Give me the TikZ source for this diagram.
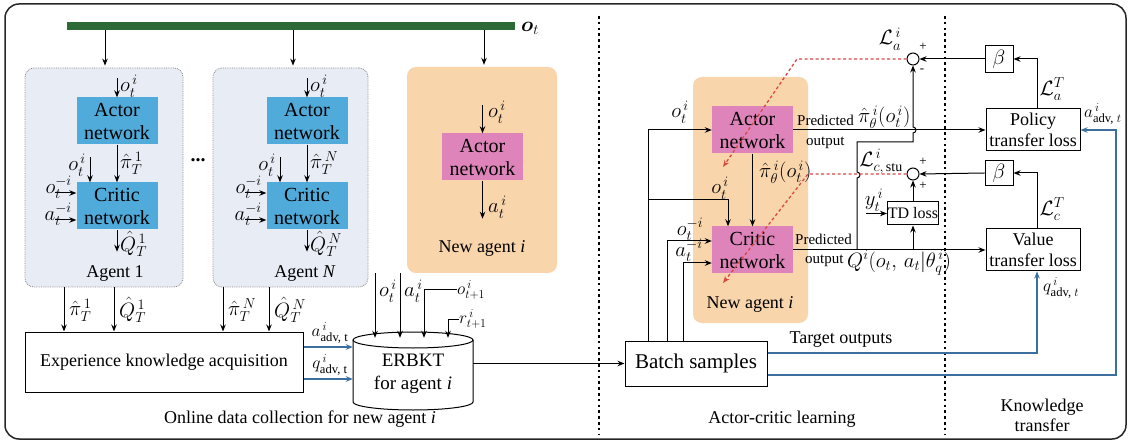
\documentclass[tikz,border=0pt]{standalone}
\usepackage{amsmath}
\usepackage{fontspec}
\setmainfont{Liberation Serif}
\newfontfamily\tms{Liberation Serif}
\usetikzlibrary{arrows.meta,calc}
\definecolor{agbg}{HTML}{E8ECF5}
\definecolor{agbd}{HTML}{8A8A8A}
\definecolor{netblue}{HTML}{50AADA}
\definecolor{netpink}{HTML}{DF84BA}
\definecolor{orng}{HTML}{F9D5AC}
\definecolor{barg}{HTML}{2E6A36}
\definecolor{lblue}{HTML}{3C6E9E}
\definecolor{dred}{HTML}{D84848}
\begin{document}
\begin{tikzpicture}[x=1pt,y=-1pt,
  >={Stealth[length=7pt,width=5.5pt]},
  lbl/.style={font=\tms\fontsize{18}{21}\selectfont, inner sep=0pt},
  mlbl/.style={font=\tms\fontsize{20}{23}\selectfont, inner sep=0pt},
  slbl/.style={font=\tms\fontsize{15}{17}\selectfont, inner sep=0pt},
  agentbox/.style={draw=agbd, densely dotted, line width=0.8pt, fill=agbg, rounded corners=9pt},
  orbox/.style={fill=orng, rounded corners=9pt},
  net/.style={align=center, minimum width=81, minimum height=47, inner sep=0pt, font=\tms\fontsize{20}{23}\selectfont},
  bnet/.style={net, fill=netblue},
  pnet/.style={net, fill=netpink},
  wbox/.style={draw, line width=1pt, fill=white, align=center, inner sep=0pt, font=\tms\fontsize{18}{21}\selectfont},
  arr/.style={->, line width=1pt},
  thk/.style={->, line width=1.8pt},
  blu/.style={->, draw=lblue, color=lblue, line width=1.2pt},
  rdash/.style={->, draw=dred, color=dred, line width=1.3pt, dash pattern=on 3pt off 2.5pt},
  sep/.style={line width=2.6pt, dash pattern=on 2.6pt off 3.2pt},
  sumc/.style={circle, draw, line width=1pt, minimum size=12, inner sep=0pt, fill=white},
  sgn/.style={font=\tms\fontsize{13}{13}\selectfont, inner sep=0pt}
]
\useasboundingbox (0,0) rectangle (1131,443);
% frame and separators
\draw[line width=1.5pt, rounded corners=14pt, draw=black!85, fill=white] (5,4) rectangle (1126,439);
\draw[sep] (599,16) -- (599,434);
\draw[sep] (945,16) -- (945,434);

% agent boxes
\node[agentbox, minimum width=158, minimum height=219] (ag1) at (104,177.5) {};
\node[agentbox, minimum width=155, minimum height=219] (agN) at (290.5,177.5) {};
\node[orbox, minimum width=150, minimum height=206] (nag) at (482,170) {};
\node[orbox, minimum width=115, minimum height=246] (nag2) at (750.5,200) {};

% observation bar
\node[fill=barg, minimum width=448, minimum height=8, inner sep=0pt] (bar) at (291,26) {};
\node[mlbl, anchor=west] (ot) at (521,28) {$\boldsymbol{o}_t$};
\foreach \x/\b in {105/ag1, 293/agN, 484/nag}
  \draw[arr, shorten >=2pt] (bar.south -| \x,0) -- (\b.north -| \x,0);

% expert agents
\foreach \dx/\sx/\n/\agt in {0/a/1/1, 190/b/N/{\textit{N}}} {
  \node[bnet] (act\sx) at ({117+\dx},121) {Actor\\network};
  \node[bnet] (cri\sx) at ({117+\dx},206) {Critic\\network};
  \draw[arr] ($(act\sx.north)+(0,-19)$) -- (act\sx.north);
  \node[mlbl, anchor=west] at ({120+\dx},86) {$o_t^{\,i}$};
  \draw[arr] (act\sx.south) -- (cri\sx.north);
  \node[mlbl, anchor=west] at ({120+\dx},163) {$\hat{\pi}_T^{\,\n}$};
  \draw[arr] ($(cri\sx.north)+(-27,-25)$) -- ($(cri\sx.north)+(-27,0)$);
  \node[mlbl, anchor=east] at ({86+\dx},165) {$o_t^{\,i}$};
  \draw[arr] ($(cri\sx.west)+(-21,-13)$) -- ($(cri\sx.west)+(0,-13)$);
  \node[mlbl, anchor=east] at ({72+\dx},187) {$o_t^{-i}$};
  \draw[arr] ($(cri\sx.west)+(-21,14)$) -- ($(cri\sx.west)+(0,14)$);
  \node[mlbl, anchor=east] at ({72+\dx},214) {$a_t^{-i}$};
  \draw[arr] (cri\sx.south) -- ($(cri\sx.south)+(0,22)$);
  \node[mlbl, anchor=west] at ({120+\dx},244) {$\hat{Q}_T^{\,\n}$};
  \node[lbl] at ({115+\dx},274) {Agent \agt};
}
\node[font=\tms\bfseries\fontsize{20}{20}\selectfont, inner sep=0pt] at (198,160) {...};

% new agent (online)
\node[pnet] (act3) at (482.5,157) {Actor\\network};
\draw[arr] ($(act3.north)+(0,-28)$) -- (act3.north);
\node[mlbl, anchor=west] at (488,112) {$o_t^{\,i}$};
\draw[arr] (act3.south) -- ($(act3.south)+(0,38)$);
\node[mlbl, anchor=west] at (488,207) {$a_t^{\,i}$};
\node[lbl] at (482,248) {New agent \textit{i}};

% experience knowledge acquisition
\node[wbox, minimum width=278, minimum height=60] (eka) at (164,362) {Experience knowledge acquisition};
\draw[arr] (ag1.south -| 64,0) -- (eka.north -| 64,0);
\node[mlbl, anchor=west] at (69,310) {$\hat{\pi}_T^{\,1}$};
\draw[arr] (ag1.south -| 114,0) -- (eka.north -| 114,0);
\node[mlbl, anchor=west] at (119,310) {$\hat{Q}_T^{\,1}$};
\draw[arr] (agN.south -| 223,0) -- (eka.north -| 223,0);
\node[mlbl, anchor=west] at (228,310) {$\hat{\pi}_T^{\,N}$};
\draw[arr] (agN.south -| 269,0) -- (eka.north -| 269,0);
\node[mlbl, anchor=west] at (274,310) {$\hat{Q}_T^{\,N}$};

% ERBKT cylinder
\draw[line width=1pt, fill=white] (353,340) -- (353,402) arc[start angle=180,end angle=360,x radius=60pt,y radius=8pt] -- (473,340);
\draw[line width=1pt, fill=white] (413,340) ellipse[x radius=60pt, y radius=8pt];
\node[inner sep=0pt, minimum width=120, minimum height=72, align=center, font=\tms\fontsize{19}{23}\selectfont] (erb) at (413,374) {ERBKT\\for agent \textit{i}};
\draw[arr] (nag.south -| 375,0) -- (erb.north -| 375,0);
\node[mlbl, anchor=west] at (379,291) {$o_t^{\,i}$};
\draw[arr] (nag.south -| 400,0) -- (erb.north -| 400,0);
\node[mlbl, anchor=west] at (404,291) {$a_t^{\,i}$};
\node[lbl, anchor=west] (lo1) at (457,290) {$o_{t+1}^{\,i}$};
\draw[line width=1pt, ->] (lo1.west) -| (erb.north -| 424,0);
\node[lbl, anchor=west] (lr1) at (459,319) {$r_{t+1}^{\,i}$};
\draw[line width=1pt, ->] (lr1.west) -| (erb.north -| 448,0);

\draw[blu] (eka.east |- 0,347) -- (erb.west |- 0,347);
\node[lbl, anchor=south] at (330,344) {$a^{\,i}_{\text{adv, t}}$};
\draw[blu] (eka.east |- 0,379) -- (erb.west |- 0,379);
\node[lbl, anchor=south] at (330,376) {$q^{\,i}_{\text{adv, t}}$};
\node[lbl] at (300,419) {Online data collection for new agent \textit{i}};

% actor-critic learning
\node[pnet] (act2) at (752.5,130) {Actor\\network};
\node[pnet] (cri2) at (752.5,250) {Critic\\network};
\node[lbl] at (750,304) {New agent \textit{i}};
\node[wbox, minimum width=142, minimum height=45, font=\tms\fontsize{21}{24}\selectfont] (batch) at (696,363.5) {Batch samples};
\draw[thk] (erb.east |- batch.west) -- (batch.west);

\draw[arr] (batch.north -| 648,0) |- (act2.west);
\coordinate (br) at (648,200);
\draw[arr] (br) -| ($(cri2.north)+(-24.5,0)$);
\draw[arr] (batch.north -| 667,0) |- ($(cri2.west)+(0,-9)$);
\draw[arr] (batch.north -| 683,0) |- ($(cri2.west)+(0,13)$);
\draw[arr] (act2.south) -- (cri2.north);
\node[mlbl] at (680,112) {$o_t^{\,i}$};
\node[mlbl] at (720,188) {$o_t^{\,i}$};
\node[mlbl] at (690,229) {$o_t^{-i}$};
\node[mlbl] at (689,250) {$a_t^{-i}$};
\node[mlbl, anchor=west] at (759,172) {$\hat{\pi}_\theta^{\,i}(o_t^{\,i})$};

\node[slbl, anchor=west] at (797,120) {Predicted};
\node[slbl, anchor=west] at (806,143) {output};
\node[mlbl, anchor=west] at (858,117) {$\hat{\pi}_\theta^{\,i}(o_t^{\,i})$};
\node[slbl, anchor=west] at (795,239) {Predicted};
\node[slbl, anchor=west] at (805,261) {output};
\node[mlbl, anchor=west] at (847,263) {$Q^i(o_t,\, a_t|\theta_q^{\,i})$};
\node[lbl] at (841,340) {Target outputs};
\node[lbl] at (782,419) {Actor-critic learning};

% knowledge transfer side
\node[sumc] (la) at (913,59) {};
\node[sumc] (lc) at (913,174) {};
\node[wbox, minimum width=28, minimum height=27, font=\fontsize{20}{22}\selectfont] (b1) at (999,59) {$\beta$};
\node[wbox, minimum width=28, minimum height=25, font=\fontsize{20}{22}\selectfont] (b2) at (999,173) {$\beta$};
\node[wbox, minimum width=94, minimum height=42] (pol) at (1033,130) {Policy\\transfer loss};
\node[wbox, minimum width=94, minimum height=42] (val) at (1033,250) {Value\\transfer loss};
\node[wbox, minimum width=51, minimum height=23, font=\tms\fontsize{16}{18}\selectfont] (td) at (913,213.5) {TD loss};

\draw[arr] (act2.east) -- (pol.west);
\draw[arr] (cri2.east) -- (val.west);
\draw[arr] (pol.north -| 1037,0) |- (b1.east);
\draw[arr] (val.north -| 1037,0) |- (b2.east);
\draw[arr] (b1.west) -- (la.east);
\draw[arr] (b2.west) -- (lc.east);
\node[mlbl] at (1052,89) {$\mathcal{L}_a^{T}$};
\node[mlbl] at (1052,209) {$\mathcal{L}_c^{T}$};

\draw[arr] (cri2.east -| 857,0) -- (857,178) arc[start angle=-90,end angle=90,radius=3pt] -- (857,142) -| (913,133) arc[start angle=-90,end angle=90,radius=3pt] -- (la.south);
\draw[arr] (cri2.east -| td.south) -- (td.south);
\draw[arr] (td.north) -- (lc.south);
\coordinate (yt) at (866,213.5);
\draw[arr] (yt) -- (td.west);
\node[mlbl] at (874,200) {$y_t^{\,i}$};

\node[mlbl] at (890,39) {$\mathcal{L}_a^{\,i}$};
\node[mlbl] at (881,162) {$\mathcal{L}^{\,i}_{c,\,\text{stu}}$};
\node[sgn] at (923,47) {+};
\node[sgn] at (922,71) {-};
\node[sgn] at (923,162) {+};
\node[sgn] at (923,186) {+};

\draw[rdash] (la.west) -- (797,59) -- (723,167);
\draw[rdash] (lc.west) -- (808,174) -- (723,283);

\draw[blu] (batch.east |- 0,353) -| (val.south -| 1037,0);
\draw[blu] (batch.east |- 0,375) -| (1116,130) -- (pol.east);
\node[lbl, anchor=west] at (1084,114) {$a^{\,i}_{\text{adv, }t}$};
\node[lbl, anchor=west] at (1043,288) {$q^{\,i}_{\text{adv, }t}$};
\node[lbl, align=center, font=\tms\fontsize{18}{20}\selectfont] at (1042,415) {Knowledge\\transfer};
\end{tikzpicture}
\end{document}
